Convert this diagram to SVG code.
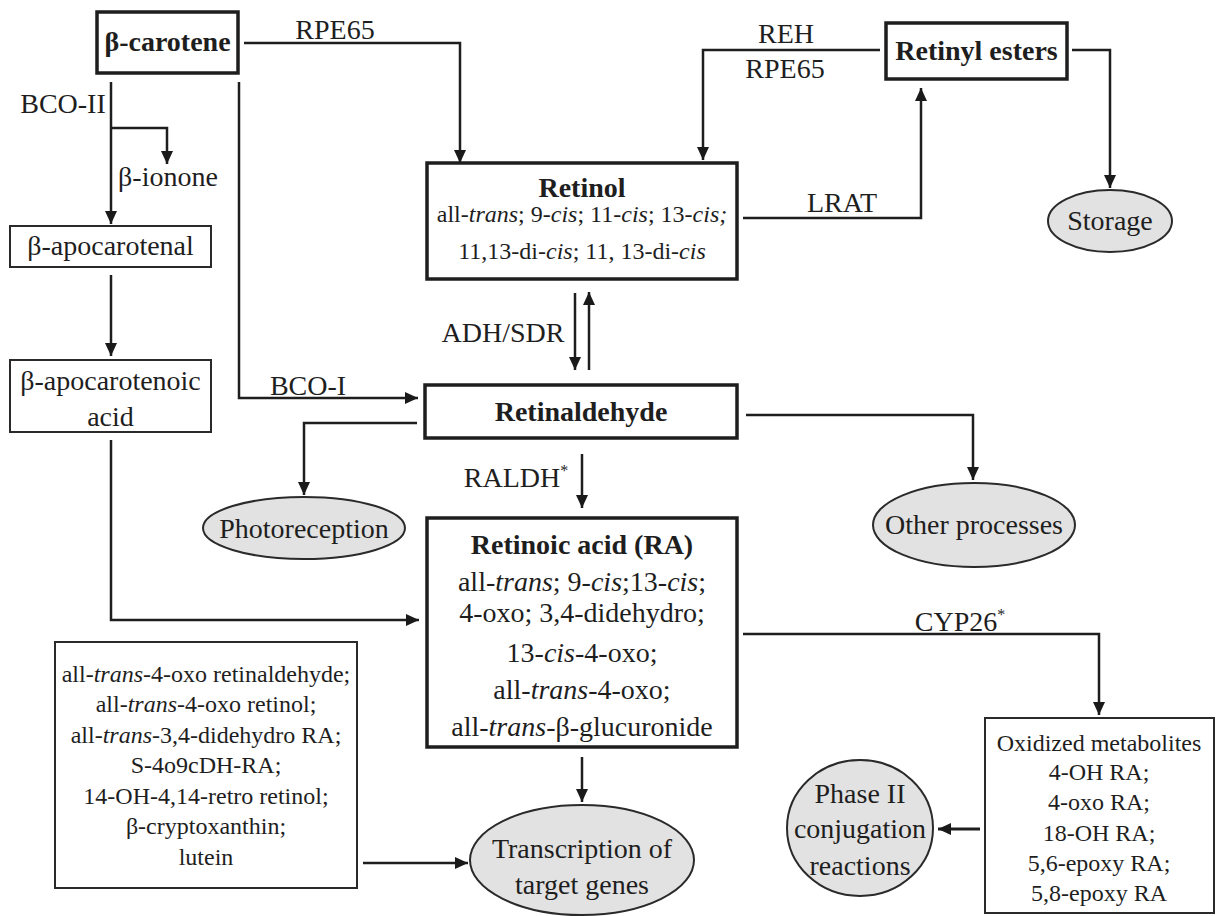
<svg xmlns="http://www.w3.org/2000/svg" width="1216" height="916" viewBox="0 0 1216 916">
<defs>
<marker id="ah" markerUnits="userSpaceOnUse" markerWidth="14" markerHeight="14" refX="13" refY="6" orient="auto">
<path d="M0,0 L13,6 L0,12 z" fill="#1a1a1a"/>
</marker>
<style>
text{font-family:"Liberation Serif","Times New Roman",serif;fill:#1e1e1e;text-anchor:middle}
.t{font-size:28px;font-weight:bold}
.r{font-size:28px}
.s{font-size:24px}
.m{font-size:28px}
.i{font-style:italic}
.thick{fill:#fff;stroke:#1e1e1e;stroke-width:3.5}
.thin{fill:#fff;stroke:#2a2a2a;stroke-width:2}
.ell{fill:#e2e2e2;stroke:#2a2a2a;stroke-width:2}
.c{fill:none;stroke:#1e1e1e;stroke-width:2.5}
.ca{fill:none;stroke:#1e1e1e;stroke-width:2.5;marker-end:url(#ah)}
.sup{font-size:16px}
</style>
</defs>
<rect width="1216" height="916" fill="#fff"/>

<g id="connectors">
<path class="ca" d="M244,43 H460 V163"/>
<path class="ca" d="M111,82 V224"/>
<path class="ca" d="M111,128 H167 V164"/>
<path class="ca" d="M239,82 V398 H418"/>
<path class="ca" d="M111,275 V356"/>
<path class="ca" d="M111,440 V620 H419"/>
<path class="ca" d="M880,50 H703 V160"/>
<path class="ca" d="M743,218 H921 V88"/>
<path class="ca" d="M1072,50 H1110 V188"/>
<path class="ca" d="M575,293 V370"/>
<path class="ca" d="M589,370 V292"/>
<path class="ca" d="M417,423 H304 V495"/>
<path class="ca" d="M746,415 H973 V480"/>
<path class="ca" d="M582,454 V508"/>
<path class="ca" d="M582,757 V802"/>
<path class="ca" d="M363,863 H468"/>
<path class="ca" d="M743,634 H1099 V715"/>
<path class="ca" d="M980,829 H938" style="stroke-width:3"/>
<text class="r" x="335" y="39">RPE65</text>
<text class="r" x="786" y="43">REH</text>
<text class="r" x="785" y="78">RPE65</text>
<text class="r" x="842" y="212">LRAT</text>
<text class="r" x="63" y="113">BCO-II</text>
<text class="r" x="168" y="186">β-ionone</text>
<text class="r" x="308" y="395">BCO-I</text>
<text class="r" x="503" y="342">ADH/SDR</text>
<text class="r" x="516" y="487">RALDH<tspan class="sup" dy="-11">*</tspan></text>
<text class="r" x="960" y="631">CYP26<tspan class="sup" dy="-11">*</tspan></text>
</g>

<g id="beta-carotene">
<rect class="thick" x="97" y="12" width="141" height="61"/>
<text class="t" x="167.5" y="51">β-carotene</text>
</g>

<g id="retinol">
<rect class="thick" x="427" y="163" width="310" height="116"/>
<text class="t" x="582" y="197">Retinol</text>
<text class="s" x="582" y="222">all-<tspan class="i">trans</tspan>; 9-<tspan class="i">cis</tspan>; 11-<tspan class="i">cis</tspan>; 13-<tspan class="i">cis;</tspan></text>
<text class="s" x="582" y="259">11,13-di-<tspan class="i">cis</tspan>; 11, 13-di-<tspan class="i">cis</tspan></text>
</g>

<g id="retinyl-esters">
<rect class="thick" x="886" y="23" width="181" height="56"/>
<text class="t" x="976.5" y="60">Retinyl esters</text>
</g>

<g id="storage">
<ellipse class="ell" cx="1110" cy="221" rx="62" ry="31"/>
<text class="m" x="1110" y="230">Storage</text>
</g>

<g id="beta-apocarotenal">
<rect class="thin" x="10" y="226" width="201" height="41"/>
<text class="m" x="110.5" y="255">β-apocarotenal</text>
</g>

<g id="beta-apocarotenoic-acid">
<rect class="thin" x="10" y="360" width="201" height="72"/>
<text class="m" x="110.5" y="390">β-apocarotenoic</text>
<text class="m" x="110.5" y="426">acid</text>
</g>

<g id="retinaldehyde">
<rect class="thick" x="425" y="385" width="312" height="53"/>
<text class="t" x="581" y="421">Retinaldehyde</text>
</g>

<g id="photoreception">
<ellipse class="ell" cx="304" cy="528" rx="101" ry="31"/>
<text class="m" x="304" y="538">Photoreception</text>
</g>

<g id="other-processes">
<ellipse class="ell" cx="974" cy="525" rx="101" ry="42"/>
<text class="m" x="974" y="534">Other processes</text>
</g>

<g id="retinoic-acid">
<rect class="thick" x="427" y="518" width="310" height="229"/>
<text class="t" x="582" y="554">Retinoic acid (RA)</text>
<text class="m" x="582" y="591">all-<tspan class="i">trans</tspan>; 9-<tspan class="i">cis</tspan>;13-<tspan class="i">cis</tspan>;</text>
<text class="m" x="582" y="622">4-oxo; 3,4-didehydro;</text>
<text class="m" x="582" y="662">13-<tspan class="i">cis</tspan>-4-oxo;</text>
<text class="m" x="582" y="699">all-<tspan class="i">trans</tspan>-4-oxo;</text>
<text class="m" x="582" y="736">all-<tspan class="i">trans</tspan>-β-glucuronide</text>
</g>

<g id="other-retinoids">
<rect class="thin" x="55" y="642" width="302" height="246"/>
<text class="s" x="206" y="682">all-<tspan class="i">trans</tspan>-4-oxo retinaldehyde;</text>
<text class="s" x="206" y="712">all-<tspan class="i">trans</tspan>-4-oxo retinol;</text>
<text class="s" x="206" y="743">all-<tspan class="i">trans</tspan>-3,4-didehydro RA;</text>
<text class="s" x="206" y="773">S-4o9cDH-RA;</text>
<text class="s" x="206" y="804">14-OH-4,14-retro retinol;</text>
<text class="s" x="206" y="834">β-cryptoxanthin;</text>
<text class="s" x="206" y="865">lutein</text>
</g>

<g id="transcription">
<ellipse class="ell" cx="582" cy="860" rx="112" ry="55"/>
<text class="m" x="582" y="858">Transcription of</text>
<text class="m" x="582" y="894">target genes</text>
</g>

<g id="oxidized-metabolites">
<rect class="thin" x="985" y="718" width="229" height="195"/>
<text class="s" x="1099" y="751">Oxidized metabolites</text>
<text class="s" x="1099" y="780">4-OH RA;</text>
<text class="s" x="1099" y="810">4-oxo RA;</text>
<text class="s" x="1099" y="841">18-OH RA;</text>
<text class="s" x="1099" y="871">5,6-epoxy RA;</text>
<text class="s" x="1099" y="901">5,8-epoxy RA</text>
</g>

<g id="phase-ii">
<ellipse class="ell" cx="860" cy="828" rx="73" ry="68"/>
<text class="m" x="860" y="803">Phase II</text>
<text class="m" x="860" y="838">conjugation</text>
<text class="m" x="860" y="875">reactions</text>
</g>
</svg>
